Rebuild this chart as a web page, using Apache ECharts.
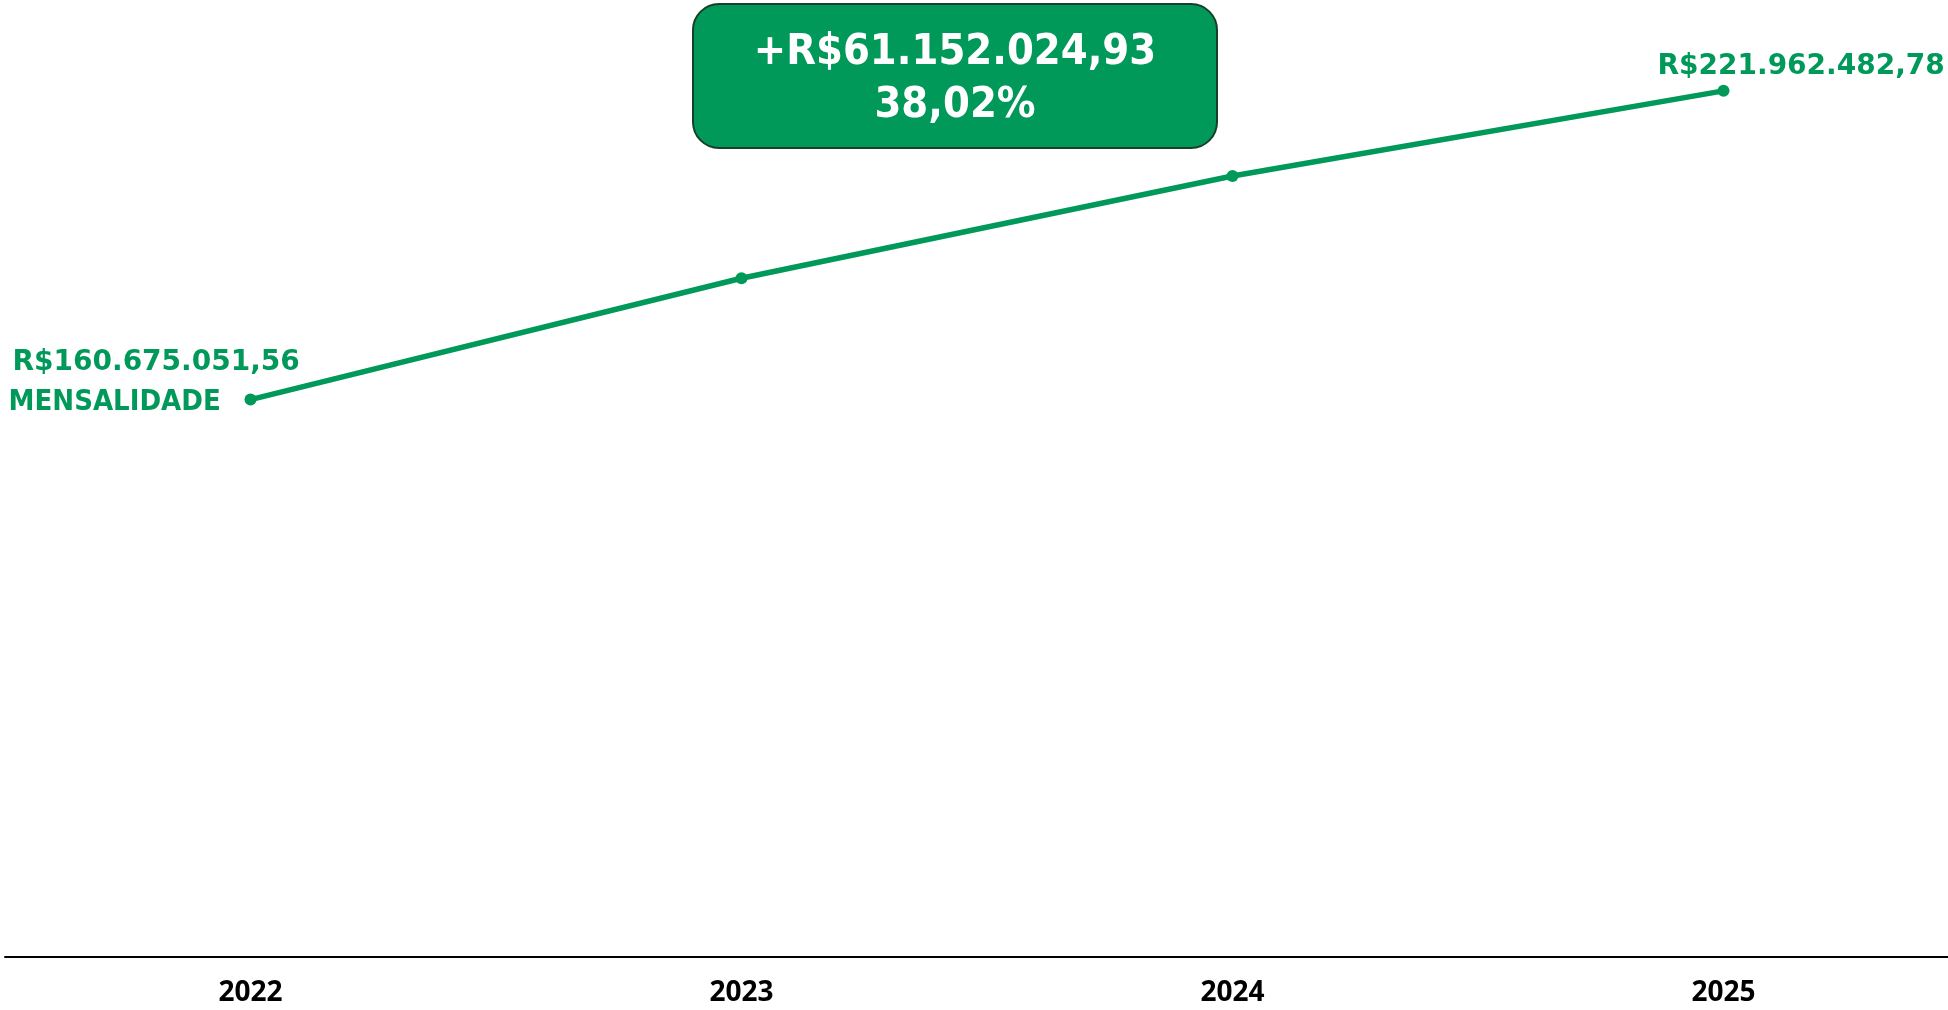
<!DOCTYPE html>
<html>
<head>
<meta charset="utf-8">
<script src="https://cdn.jsdelivr.net/npm/echarts@6/dist/echarts.min.js"></script>
<style>
  html, body { margin: 0; padding: 0; background: #fff; }
  #chart { width: 1948px; height: 1010px; }
</style>
</head>
<body>
<div id="chart"></div>
<script>
// dados
const years = ['2022', '2023', '2024', '2025'];
const mensalidade = [160675051.56, 184760000, 205050000, 221962482.78];
const valueLabels = ['R$160.675.051,56', '', '', 'R$221.962.482,78'];
const seriesName = 'MENSALIDADE';
const calloutLines = ['+R$61.152.024,93', '38,02%'];

const green = '#00995a';

const chart = echarts.init(document.getElementById('chart'));

// rótulos só no primeiro e no último ponto
const points = mensalidade.map((v, i) => {
  const item = { value: v };
  if (i === 0) {
    item.label = {
      show: true,
      position: [-236, -49],
      align: 'left',
      verticalAlign: 'top',
      formatter: '{v|' + valueLabels[i] + '}\n{n|' + seriesName + '}',
      rich: {
        v: { fontFamily: 'DejaVu Sans', fontWeight: 'bold', fontSize: 28, lineHeight: 36, color: green, padding: [0, 0, 0, 4] },
        n: { fontFamily: 'DejaVu Sans Condensed', fontWeight: 'bold', fontSize: 29, lineHeight: 44, color: green }
      }
    };
  } else if (i === mensalidade.length - 1) {
    item.label = {
      show: true,
      position: [-60, -18],
      align: 'left',
      verticalAlign: 'middle',
      formatter: valueLabels[i],
      fontFamily: 'DejaVu Sans',
      fontWeight: 'bold',
      fontSize: 28,
      color: green
    };
  }
  return item;
});

const option = {
  animation: false,
  grid: { left: 5, right: -21, top: 0, bottom: 53, outerBoundsMode: 'none' },
  xAxis: {
    type: 'category',
    data: years,
    axisLine: { lineStyle: { color: '#000', width: 2 } },
    axisTick: { show: false },
    axisLabel: {
      margin: 22,
      color: '#000',
      fontFamily: 'Open Sans',
      fontWeight: 'bold',
      fontSize: 28
    }
  },
  yAxis: {
    type: 'value',
    min: 50000000,
    max: 240000000,
    show: false,
    splitLine: { show: false }
  },
  series: [
    {
      name: seriesName,
      type: 'line',
      data: points,
      symbol: 'circle',
      symbolSize: 12,
      lineStyle: { color: green, width: 5.5 },
      itemStyle: { color: green }
    }
  ],
  graphic: [
    {
      type: 'group',
      children: [
        {
          type: 'rect',
          shape: { x: 693, y: 4, width: 524, height: 144, r: 26 },
          style: { fill: green, stroke: '#17402a', lineWidth: 2 }
        },
        {
          type: 'text',
          x: 955,
          y: 79,
          style: {
            text: calloutLines.join('\n'),
            align: 'center',
            verticalAlign: 'middle',
            fill: '#fff',
            fontFamily: 'DejaVu Sans Condensed',
            fontWeight: 'bold',
            fontSize: 43,
            lineHeight: 53
          }
        }
      ]
    }
  ]
};

chart.setOption(option);
window.addEventListener('resize', () => chart.resize());
</script>
</body>
</html>
